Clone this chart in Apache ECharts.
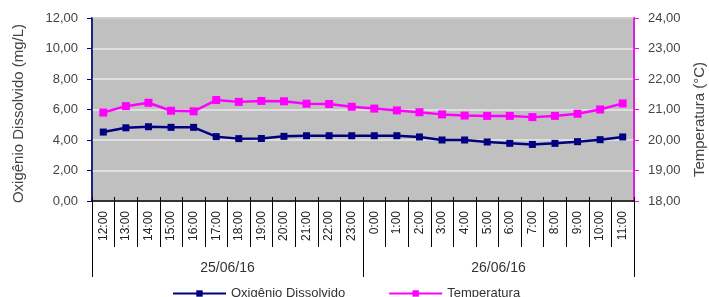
<!DOCTYPE html>
<html>
<head>
  <meta charset="utf-8">
  <script src="https://cdn.jsdelivr.net/npm/echarts@6/dist/echarts.min.js"></script>
</head>
<body style="margin:0">
  <div id="container" style="width:709px;height:297px"></div>
  <script type="text/javascript">
    var hours = ['12:00', '13:00', '14:00', '15:00', '16:00', '17:00', '18:00', '19:00', '20:00', '21:00', '22:00', '23:00',
      '0:00', '1:00', '2:00', '3:00', '4:00', '5:00', '6:00', '7:00', '8:00', '9:00', '10:00', '11:00'];
    var dates = ['25/06/16', '26/06/16'];
    var oxigenio = [4.52, 4.80, 4.87, 4.83, 4.83, 4.22, 4.09, 4.10, 4.24, 4.28, 4.28, 4.28,
      4.28, 4.28, 4.20, 4.00, 4.00, 3.87, 3.78, 3.71, 3.78, 3.89, 4.02, 4.20];
    var temperatura = [20.90, 21.11, 21.22, 20.96, 20.94, 21.31, 21.25, 21.28, 21.27, 21.19, 21.18, 21.09,
      21.03, 20.97, 20.91, 20.84, 20.80, 20.79, 20.79, 20.75, 20.79, 20.86, 21.00, 21.20];

    var font = 'Liberation Sans';
    function comma(v) { return v.toFixed(2).replace('.', ','); }

    var myChart = echarts.init(document.getElementById('container'), null, { renderer: 'canvas' });
    var option = {
      animation: false,
      textStyle: { fontFamily: font },
      grid: {
        left: 92, right: 75, top: 18, bottom: 96,
        outerBoundsMode: 'none',
        show: true, backgroundColor: '#C0C0C0', borderColor: '#808080', borderWidth: 2
      },
      legend: {
        left: 167, top: 282,
        itemWidth: 53, itemHeight: 8, itemGap: 43,
        textStyle: { fontFamily: font, fontSize: 13, color: '#333' },
        data: ['Oxigênio Dissolvido', 'Temperatura']
      },
      xAxis: [
        {
          type: 'category', data: hours, position: 'bottom',
          axisLine: { lineStyle: { color: '#000', width: 1.5 } },
          axisTick: { show: true, interval: 0, length: 46, lineStyle: { color: '#000' } },
          axisLabel: { rotate: 90, margin: 10, fontSize: 12, color: '#222', fontFamily: font, interval: 0 }
        },
        {
          type: 'category', data: dates, position: 'bottom',
          axisLine: { show: false },
          axisTick: { show: true, interval: 0, length: 76, lineStyle: { color: '#000' } },
          axisLabel: { margin: 60, fontSize: 14, color: '#333', fontFamily: font }
        },
        {
          type: 'category', data: hours, position: 'bottom',
          axisLine: { show: false },
          axisTick: { show: true, interval: 0, inside: true, length: 4, lineStyle: { color: '#000' } },
          axisLabel: { show: false }
        }
      ],
      yAxis: [
        {
          type: 'value', min: 0, max: 12, interval: 2,
          name: 'Oxigênio Dissolvido (mg/L)', nameLocation: 'middle', nameGap: 66,
          nameTextStyle: { fontSize: 15, color: '#444', fontFamily: font, padding: [0, 8, 0, 0] },
          axisLine: { show: true, lineStyle: { color: '#000080', width: 1.5 } },
          axisTick: { show: true, length: 5, lineStyle: { color: '#000080' } },
          axisLabel: { formatter: comma, fontSize: 13, color: '#444', margin: 14, fontFamily: font },
          splitLine: { lineStyle: { color: '#E8E8E8', width: 1.5 } }
        },
        {
          type: 'value', min: 18, max: 24, interval: 1, position: 'right',
          name: 'Temperatura (°C)', nameLocation: 'middle', nameGap: 58,
          nameTextStyle: { fontSize: 15, color: '#444', fontFamily: font, padding: [0, 20, 0, 0] },
          axisLine: { show: true, lineStyle: { color: '#FF00FF', width: 1.5 } },
          axisTick: { show: true, length: 5, lineStyle: { color: '#FF00FF' } },
          axisLabel: { formatter: comma, fontSize: 13, color: '#444', margin: 14, fontFamily: font },
          splitLine: { show: false }
        }
      ],
      series: [
        {
          name: 'Oxigênio Dissolvido', type: 'line', data: oxigenio,
          xAxisIndex: 0, yAxisIndex: 0,
          symbol: 'rect', symbolSize: 7,
          itemStyle: { color: '#000080' },
          lineStyle: { color: '#000080', width: 2.5 }
        },
        {
          name: 'Temperatura', type: 'line', data: temperatura,
          xAxisIndex: 0, yAxisIndex: 1,
          symbol: 'rect', symbolSize: 8,
          itemStyle: { color: '#FF00FF' },
          lineStyle: { color: '#FF00FF', width: 2.5 }
        }
      ]
    };
    myChart.setOption(option);
    window.addEventListener('resize', myChart.resize);
  </script>
</body>
</html>
